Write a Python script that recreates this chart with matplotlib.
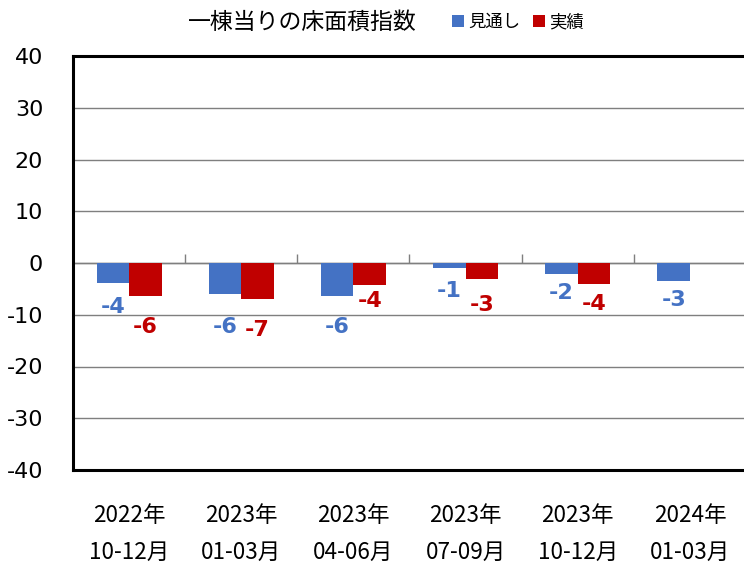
import matplotlib
matplotlib.use("Agg")
import matplotlib.pyplot as plt
import numpy as np

title = "一棟当りの床面積指数"
categories = ["2022年\n10-12月", "2023年\n01-03月", "2023年\n04-06月",
              "2023年\n07-09月", "2023年\n10-12月", "2024年\n01-03月"]
series_names = ["見通し", "実績"]
forecast = [-3.9, -6.0, -6.4, -0.9, -2.1, -3.4]
actual = [-6.4, -7.0, -4.2, -3.0, -4.1, np.nan]
yticks = [-40, -30, -20, -10, 0, 10, 20, 30, 40]

# label offsets below bar ends (points)
off_fc = [17, 24, 22, 17, 14, 14]
off_ac = [22, 22, 12, 19, 14, 0]

BLUE = "#4472C4"
RED = "#C00000"
CJK = ["Noto Sans CJK JP", "DejaVu Sans"]

fig = plt.figure(figsize=(7.44, 5.71), dpi=100)
ax = fig.add_axes([73/744, 1-470/571, 673/744, 414/571])

x = np.arange(len(categories))
w = 0.29
b1 = ax.bar(x - w/2, forecast, w, color=BLUE, zorder=3, label=series_names[0])
b2 = ax.bar(x + w/2, actual, w, color=RED, zorder=3, label=series_names[1])

ax.set_xlim(-0.5, len(categories) - 0.5)
ax.set_ylim(-40, 40)
ax.set_yticks(yticks)
ax.set_yticklabels([str(v) for v in yticks], fontsize=16, family="DejaVu Sans")
ax.yaxis.grid(True, color="#7f7f7f", linewidth=1.0, zorder=0)
ax.tick_params(axis="y", length=0, pad=21.5)
ax.set_xticks(x)
ax.set_xticklabels(categories, fontsize=16.2, family=CJK, linespacing=1.75)
ax.tick_params(axis="x", length=0, pad=24.5)

# category tick marks on the zero line
ax.axhline(0, color="#7f7f7f", linewidth=1.0, zorder=2)
ax.vlines(x[:-1] + 0.5, 0, 1.7, color="#7f7f7f", linewidth=1.0, zorder=2)

for s in ["left", "top", "bottom", "right"]:
    ax.spines[s].set_linewidth(2.2)
    ax.spines[s].set_color("black")

for xi, v, o in zip(x - w/2, forecast, off_fc):
    ax.annotate(f"{v:.0f}", (xi, v), xytext=(0, -o), textcoords="offset points",
                ha="center", va="center", color=BLUE, fontsize=16, fontweight="bold",
                family="DejaVu Sans")
for xi, v, o in zip(x + w/2, actual, off_ac):
    if np.isnan(v):
        continue
    ax.annotate(f"{v:.0f}", (xi, v), xytext=(0, -o), textcoords="offset points",
                ha="center", va="center", color=RED, fontsize=16, fontweight="bold",
                family="DejaVu Sans")

fig.text(302/744, 1-22/571, title, fontsize=16.5, family=CJK, ha="center", va="center")
fig.legend(handles=[b1, b2], labels=series_names, loc="center",
           bbox_to_anchor=(518/744, 1-22/571), ncol=2, frameon=False,
           prop={"family": CJK, "size": 12.5}, handlelength=0.7, handleheight=0.7,
           handletextpad=0.25, columnspacing=0.7, borderaxespad=0)

fig.savefig("out.png", dpi=100)
